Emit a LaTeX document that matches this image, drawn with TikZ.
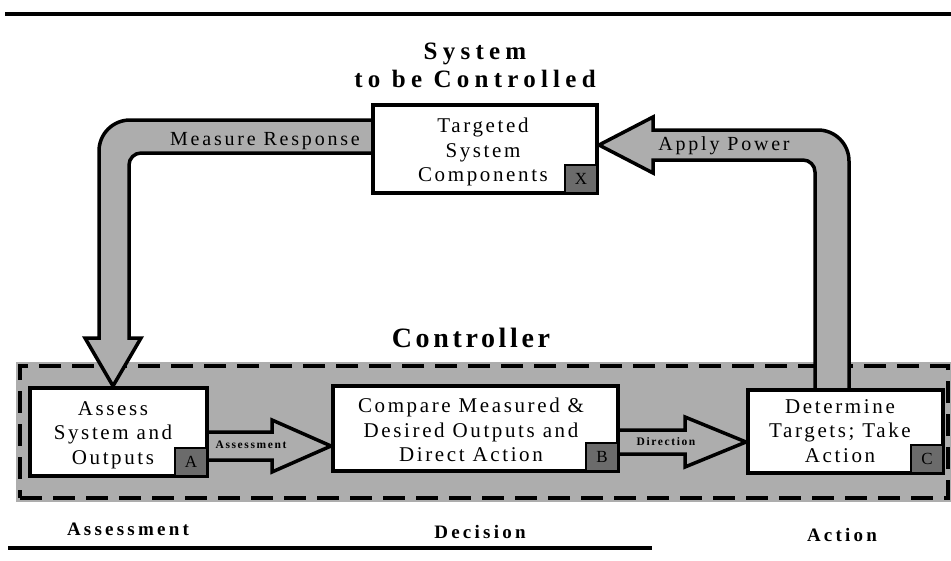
\documentclass[tikz,border=0pt]{standalone}
\usepackage{fontspec}
\setmainfont{Liberation Serif}
\newfontfamily\boxserif[LetterSpace=12.5]{Liberation Serif}
\newfontfamily\flowserif[LetterSpace=14]{Liberation Serif}
\newfontfamily\headserif[LetterSpace=21]{Liberation Serif}
\newfontfamily\ctrlserif[LetterSpace=13]{Liberation Serif}
\newfontfamily\phaseserif[LetterSpace=17]{Liberation Serif}
\newfontfamily\miniserif[LetterSpace=14]{Liberation Serif}
\usetikzlibrary{calc}

\definecolor{dotgray}{gray}{0.68}
\definecolor{darkdot}{gray}{0.42}

\tikzset{
  rule/.style={line width=3.5pt},
  heading/.style={font=\headserif\bfseries\fontsize{25}{30}\selectfont, anchor=base, inner sep=0pt},
  ctrlhead/.style={font=\ctrlserif\bfseries\fontsize{28}{32}\selectfont, anchor=base, inner sep=0pt},
  phase/.style={font=\phaseserif\bfseries\fontsize{19}{22}\selectfont, anchor=base, inner sep=0pt},
  zone/.style={fill=dotgray, draw=black, line width=4.5pt, dash pattern=on 22pt off 11pt},
  procbox/.style={draw=black, fill=white, line width=4pt, inner sep=0pt},
  boxtext/.style={font=\boxserif\fontsize{21}{24.5}\selectfont, align=center, inner sep=0pt},
  tag/.style={draw=black, fill=darkdot, line width=2pt, inner sep=0pt,
    minimum width=32pt, minimum height=28pt, font=\fontsize{17}{17}\selectfont},
  fatarrow/.style={draw=black, fill=dotgray, line width=3.5pt, line join=miter},
  flowlabel/.style={font=\flowserif\fontsize{20}{22}\selectfont, anchor=base, inner sep=0pt},
  minilabel/.style={font=\miniserif\bfseries\fontsize{11.5}{12}\selectfont, inner sep=0pt},
}

\begin{document}
\begin{tikzpicture}[x=1pt, y=-1pt]
  \useasboundingbox (0,0) rectangle (951,560);

  % horizontal rules framing the figure
  \coordinate (ruleTL) at (5,14);
  \coordinate (ruleTR) at (951,14);
  \coordinate (ruleBL) at (8,548);
  \coordinate (ruleBR) at (652,548);
  \draw[rule] (ruleTL) -- (ruleTR);
  \draw[rule] (ruleBL) -- (ruleBR);

  % headings
  \node[heading] (sysA) at (475,59) {System};
  \node[heading] (sysB) at (475,87) {to be Controlled};
  \node[ctrlhead] (ctrl) at (471,347) {Controller};

  % controller zone
  \fill[dotgray] (16,362) rectangle (951,502);
  \node[zone, minimum width=928pt, minimum height=132pt, inner sep=0pt] (zone) at (484,432) {};

  % boxes (empty frames, text placed separately)
  \node[procbox, minimum width=224pt, minimum height=88pt] (X) at (485,149) {};
  \node[procbox, minimum width=177pt, minimum height=88pt] (A) at (118.5,432) {};
  \node[procbox, minimum width=285pt, minimum height=85pt] (B) at (475.5,428.5) {};
  \node[procbox, minimum width=195pt, minimum height=83pt] (C) at (845.5,431.5) {};

  % feedback band: measure response from X down into A
  \draw[fatarrow]
    (X.west |- 0,120) -- (130,120)
    .. controls (112.9,120) and (99,133.9) .. (99,151)
    -- (99,338) -- (85,338) -- (A.north -| 113,0) -- (141,338) -- (129,338)
    -- (129,165) .. controls (129,158.4) and (134.4,153) .. (141,153)
    -- (X.west |- 0,153);

  % actuation band: apply power from C up into X
  \draw[fatarrow]
    (C.north -| 815,0) -- (815,172)
    .. controls (815,165.4) and (809.6,160) .. (803,160)
    -- (653,160) -- (653,173) -- (X.east |- 0,145) -- (653,117) -- (653,130)
    -- (818,130) .. controls (835.1,130) and (849,143.9) .. (849,161)
    -- (C.north -| 849,0);

  % assessment arrow A -> B
  \draw[fatarrow]
    (A.east |- 0,432) -- (272,432) -- (272,420) -- (B.west |- 0,446)
    -- (272,472) -- (272,460) -- (A.east |- 0,460);

  % direction arrow B -> C
  \draw[fatarrow]
    (B.east |- 0,430) -- (685,430) -- (685,417) -- (C.west |- 0,442)
    -- (685,467) -- (685,454) -- (B.east |- 0,454);

  % redraw box frames on top of the band ends
  \node[procbox, minimum width=224pt, minimum height=88pt] at (X) {};
  \node[procbox, minimum width=177pt, minimum height=88pt] at (A) {};
  \node[procbox, minimum width=285pt, minimum height=85pt] at (B) {};
  \node[procbox, minimum width=195pt, minimum height=83pt] at (C) {};

  % corner tags
  \node[tag, anchor=south east] (Xtag) at ($(X.south east)+(-1,-1)$) {X};
  \node[tag, anchor=south east] (Atag) at ($(A.south east)+(-1,-1)$) {A};
  \node[tag, anchor=south east] (Btag) at ($(B.south east)+(-1,-1)$) {B};
  \node[tag, anchor=south east] (Ctag) at ($(C.south east)+(-1,-1)$) {C};

  % box texts
  \node[boxtext] (Xtext) at (483,152) {Targeted\\System\\Components};
  \node[boxtext] (Atext) at (113,435) {Assess\\System and\\Outputs};
  \node[boxtext] (Btext) at (471,430) {Compare Measured \&\\Desired Outputs and\\Direct Action};
  \node[boxtext] (Ctext) at (840,431) {Determine\\Targets; Take\\Action};

  % flow labels
  \node[flowlabel] (measure) at (265,145) {Measure Response};
  \node[flowlabel] (power) at (724,150) {Apply Power};
  \node[minilabel] (assess) at (251,445) {Assessment};
  \node[minilabel] (direct) at (666,442) {Direction};

  % phase labels
  \node[phase] (ph1) at (128,535) {Assessment};
  \node[phase] (ph2) at (480,538) {Decision};
  \node[phase] (ph3) at (842,541) {Action};
\end{tikzpicture}
\end{document}
